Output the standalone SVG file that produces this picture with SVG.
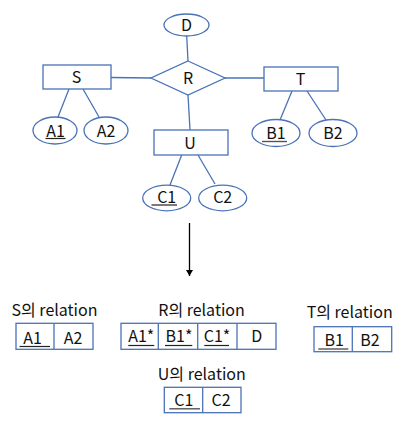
<svg xmlns="http://www.w3.org/2000/svg" width="400" height="425" viewBox="0 0 400 425">
<style>
.s{fill:#fff;stroke:#4A72B8;stroke-width:1.3}
.c{stroke:#4A72B8;stroke-width:1.3;fill:none}
.t{font-family:"Noto Sans CJK KR","Noto Sans",sans-serif;font-size:16px;fill:#111;text-anchor:middle}
.h{font-family:"Noto Sans CJK KR","Noto Sans",sans-serif;font-size:16px;fill:#111}
.u{stroke:#222;stroke-width:1.2}
.ug{stroke:#555;stroke-width:1.4}
</style>
<defs>
<marker id="ah" viewBox="0 0 6 7" refX="6" refY="3.5" markerWidth="6" markerHeight="7" markerUnits="userSpaceOnUse" orient="auto">
<path d="M0,0 L6,3.5 L0,7 Z" fill="#000"/>
</marker>
</defs>
<g id="connectors">
<line class="c" x1="186.7" y1="36" x2="188" y2="61"/>
<line class="c" x1="111" y1="77.5" x2="151" y2="78"/>
<line class="c" x1="224" y1="78" x2="264" y2="78"/>
<line class="c" x1="188" y1="95" x2="190" y2="130"/>
<line class="c" x1="69" y1="89" x2="58" y2="117"/>
<line class="c" x1="83" y1="89" x2="99" y2="117"/>
<line class="c" x1="292" y1="91" x2="280" y2="120"/>
<line class="c" x1="307" y1="91" x2="326" y2="120"/>
<line class="c" x1="181.7" y1="155" x2="170" y2="185"/>
<line class="c" x1="198" y1="155" x2="215" y2="184"/>
<line x1="189.5" y1="223" x2="189.5" y2="276" stroke="#000" stroke-width="1.3" marker-end="url(#ah)"/>
</g>
<g id="D"><ellipse class="s" cx="186.5" cy="25" rx="22.5" ry="11"/><text class="t" x="186.5" y="31">D</text></g>
<g id="R"><polygon class="s" points="188,61 225,78 188,95 151,78"/><text class="t" x="188" y="84">R</text></g>
<g id="S"><rect class="s" x="43" y="65" width="68" height="24"/><text class="t" x="76.5" y="83">S</text></g>
<g id="T"><rect class="s" x="264" y="67" width="74" height="24"/><text class="t" x="300.5" y="85">T</text></g>
<g id="U"><rect class="s" x="154" y="130" width="74" height="25"/><text class="t" x="190" y="148.5">U</text></g>
<g id="A1"><ellipse class="s" cx="55" cy="130.5" rx="22" ry="13.5"/><text class="t" x="55.5" y="136.5">A1</text><line class="u" x1="45.5" y1="138.5" x2="65.5" y2="138.5"/></g>
<g id="A2"><ellipse class="s" cx="106" cy="130.5" rx="22" ry="13.5"/><text class="t" x="106" y="136.5">A2</text></g>
<g id="B1"><ellipse class="s" cx="276" cy="133" rx="24" ry="13.5"/><text class="t" x="276" y="139">B1</text><line class="ug" x1="262" y1="141.5" x2="287" y2="141.5"/></g>
<g id="B2"><ellipse class="s" cx="333" cy="133" rx="24" ry="13.5"/><text class="t" x="333" y="139">B2</text></g>
<g id="C1"><ellipse class="s" cx="166.7" cy="198" rx="24" ry="12.8"/><text class="t" x="166.7" y="203">C1</text><line class="u" x1="151.5" y1="205" x2="177" y2="205"/></g>
<g id="C2"><ellipse class="s" cx="222.7" cy="198" rx="24" ry="12.8"/><text class="t" x="222.7" y="203">C2</text></g>
<g id="S-relation">
<text class="t" x="54.5" y="316">S의 relation</text>
<rect class="s" x="16" y="323.3" width="77" height="26"/>
<line class="c" x1="54" y1="323.3" x2="54" y2="349.3"/>
<text class="t" x="32.5" y="344">A1</text><line class="u" x1="19.5" y1="346.5" x2="50" y2="346.5"/>
<text class="t" x="73" y="344">A2</text>
</g>
<g id="R-relation">
<text class="t" x="201.5" y="315.5">R의 relation</text>
<rect class="s" x="121" y="323.3" width="155" height="26"/>
<line class="c" x1="158.3" y1="323.3" x2="158.3" y2="349.3"/>
<line class="c" x1="197.7" y1="323.3" x2="197.7" y2="349.3"/>
<line class="c" x1="237" y1="323.3" x2="237" y2="349.3"/>
<text class="t" x="141.3" y="342">A1*</text><line class="u" x1="128.3" y1="345.5" x2="154.3" y2="345.5"/>
<text class="t" x="179" y="342">B1*</text><line class="u" x1="165" y1="345.5" x2="192.3" y2="345.5"/>
<text class="t" x="217" y="342">C1*</text><line class="u" x1="204.3" y1="345.5" x2="229" y2="345.5"/>
<text class="t" x="256.7" y="342">D</text>
</g>
<g id="T-relation">
<text class="t" x="349.7" y="318.3">T의 relation</text>
<rect class="s" x="314" y="326.7" width="77.7" height="25"/>
<line class="c" x1="352.3" y1="326.7" x2="352.3" y2="351.7"/>
<text class="t" x="334.2" y="346">B1</text><line class="ug" x1="318.3" y1="349" x2="348.3" y2="349"/>
<text class="t" x="370" y="346">B2</text>
</g>
<g id="U-relation">
<text class="t" x="201.8" y="380">U의 relation</text>
<rect class="s" x="164.3" y="387.3" width="76.7" height="25.4"/>
<line class="c" x1="202.7" y1="387.3" x2="202.7" y2="412.7"/>
<text class="t" x="183.8" y="406">C1</text><line class="ug" x1="169.3" y1="408.8" x2="200" y2="408.8"/>
<text class="t" x="221" y="406">C2</text>
</g>
</svg>
